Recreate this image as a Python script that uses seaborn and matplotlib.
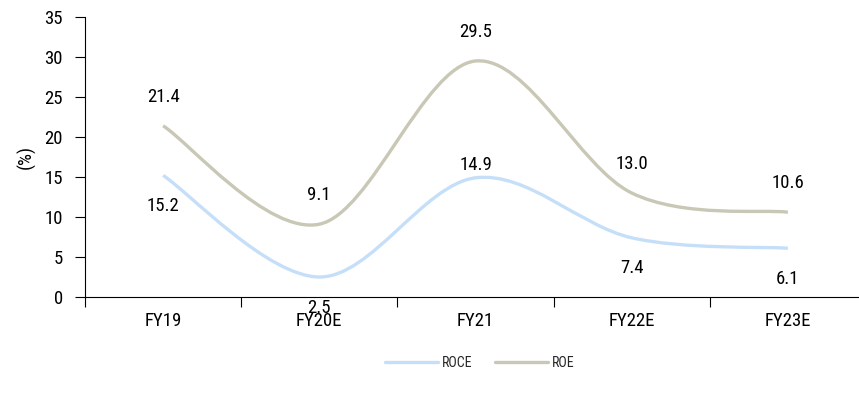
import numpy as np
import matplotlib
matplotlib.use("Agg")
import matplotlib.pyplot as plt
from matplotlib.path import Path
from matplotlib.patches import PathPatch
from matplotlib.lines import Line2D
import seaborn as sns

# data
years = ["FY19", "FY20E", "FY21", "FY22E", "FY23E"]
roce = [15.2, 2.5, 14.9, 7.4, 6.1]
roe = [21.4, 9.1, 29.5, 13.0, 10.6]

# label offsets in points (style only)
roce_offsets = [-22, -22, 9, -22, -22]
roe_offsets = [21, 21, 21, 21, 21]

ROCE_COLOR = "#c6dff9"
ROE_COLOR = "#c9c7b5"
FS = 13.5

sns.set_theme(style="white")
plt.rcParams["font.family"] = ["Roboto Condensed", "Liberation Sans Narrow", "Liberation Sans", "DejaVu Sans"]


def smooth_path(xs, ys):
    # excel-like smoothed line: catmull-rom segments as cubic beziers
    pts = np.column_stack([xs, ys]).astype(float)
    n = len(pts)
    verts = [pts[0]]
    codes = [Path.MOVETO]
    for i in range(n - 1):
        p0 = pts[i - 1] if i > 0 else pts[i]
        p1 = pts[i]
        p2 = pts[i + 1]
        p3 = pts[i + 2] if i + 2 < n else pts[i + 1]
        c1 = p1 + (p2 - p0) / 6.0
        c2 = p2 - (p3 - p1) / 6.0
        verts += [c1, c2, p2]
        codes += [Path.CURVE4] * 3
    return Path(verts, codes)


def main():
    fig = plt.figure(figsize=(8.59, 4.07), dpi=100)
    ax = fig.add_axes([85 / 859, 110 / 407, 781 / 859, 280 / 407])

    x = np.arange(len(years))
    for vals, color in [(roce, ROCE_COLOR), (roe, ROE_COLOR)]:
        patch = PathPatch(smooth_path(x, vals), facecolor="none", edgecolor=color,
                          lw=2.4, capstyle="butt", joinstyle="round")
        ax.add_patch(patch)

    for vals, offs in [(roce, roce_offsets), (roe, roe_offsets)]:
        for xi, v, o in zip(x, vals, offs):
            ax.annotate(f"{v:.1f}", (xi, v), xytext=(0, o), textcoords="offset points",
                        ha="center", va="center", fontsize=FS, color="black")

    ax.set_xlim(-0.5, len(years) - 0.5)
    ax.set_ylim(0, 35)
    ax.set_yticks(range(0, 36, 5))
    ax.set_xticks(x)
    ax.set_xticklabels(years)
    ax.set_xticks(np.arange(len(years)) - 0.5, minor=True)
    ax.tick_params(axis="x", which="major", length=0, pad=11, labelsize=FS, colors="black")
    ax.tick_params(axis="x", which="minor", length=7, width=0.8, direction="out", color="black",
                   bottom=True)
    ax.tick_params(axis="y", length=7, width=0.8, direction="out", pad=9, labelsize=FS,
                   color="black", labelcolor="black", left=True)

    ax.set_ylabel("(%)", fontsize=FS, color="black", labelpad=6)

    for s in ["top", "right"]:
        ax.spines[s].set_visible(False)
    for s in ["left", "bottom"]:
        ax.spines[s].set_color("black")
        ax.spines[s].set_linewidth(0.8)
    ax.grid(False)

    handles = [Line2D([], [], color=ROCE_COLOR, lw=2.4),
               Line2D([], [], color=ROE_COLOR, lw=2.4)]
    fig.legend(handles, ["ROCE", "ROE"], loc="center", bbox_to_anchor=(480 / 859, 1 - 363 / 407),
               ncol=2, frameon=False, fontsize=10, handlelength=3.8, handletextpad=0.3,
               columnspacing=1.6)

    fig.savefig("out.png", dpi=100)
    plt.close(fig)


if __name__ == "__main__":
    main()
